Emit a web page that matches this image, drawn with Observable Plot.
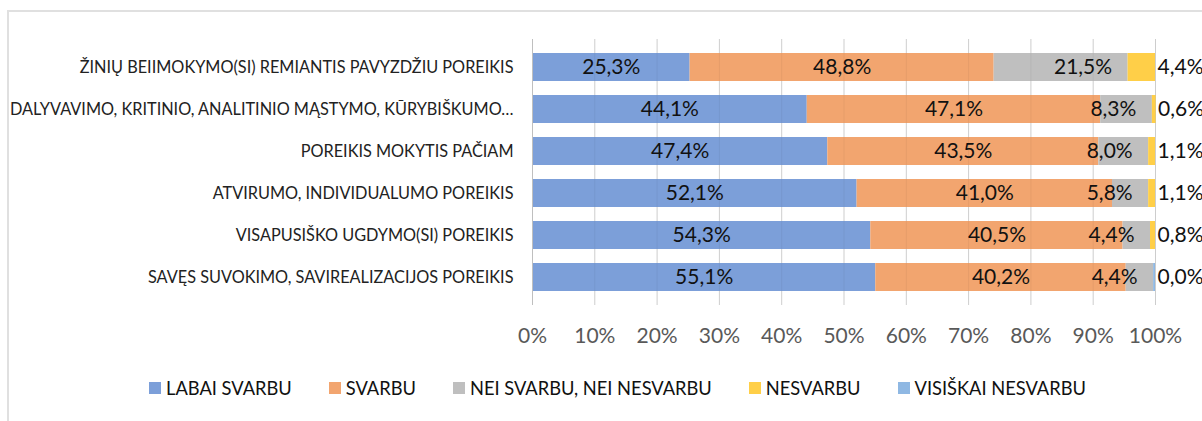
<!DOCTYPE html>
<html>
<head>
<meta charset="utf-8">
<script src="https://cdn.jsdelivr.net/npm/d3@7"></script>
<script src="https://cdn.jsdelivr.net/npm/@observablehq/plot@0.6"></script>
<style>
  html, body { margin: 0; padding: 0; background: #fff; }
  body { width: 1202px; height: 421px; position: relative; overflow: hidden; font-family: Lato, "Open Sans", sans-serif; }
  #frame { position: absolute; left: 7px; top: 10px; width: 1400px; height: 600px; border-left: 2px solid #e0e0e0; border-top: 2px solid #e0e0e0; pointer-events: none; }
  #chart { position: relative; }
  #legend { display: flex; align-items: center; height: 32px; padding-left: 149px; gap: 37px; font-size: 18.3px; color: #111; }
  #legend .item { display: flex; align-items: center; white-space: nowrap; }
  #legend .sw { width: 12px; height: 12px; margin-right: 5px; display: inline-block; }
</style>
</head>
<body>
<div id="frame"></div>
<div id="chart"></div>
<div id="legend"></div>
<script>
const categories = [
  "ŽINIŲ BEIIMOKYMO(SI) REMIANTIS PAVYZDŽIU POREIKIS",
  "DALYVAVIMO, KRITINIO, ANALITINIO MĄSTYMO, KŪRYBIŠKUMO…",
  "POREIKIS MOKYTIS PAČIAM",
  "ATVIRUMO, INDIVIDUALUMO POREIKIS",
  "VISAPUSIŠKO UGDYMO(SI) POREIKIS",
  "SAVĘS SUVOKIMO, SAVIREALIZACIJOS POREIKIS"
];
const seriesNames = ["LABAI SVARBU", "SVARBU", "NEI SVARBU, NEI NESVARBU", "NESVARBU", "VISIŠKAI NESVARBU"];
const labaiSvarbu = [25.3, 44.1, 47.4, 52.1, 54.3, 55.1];
const svarbu = [48.8, 47.1, 43.5, 41.0, 40.5, 40.2];
const neiSvarbuNeiNesvarbu = [21.5, 8.3, 8.0, 5.8, 4.4, 4.4];
const nesvarbu = [4.4, 0.6, 1.1, 1.1, 0.8, 0.0];
const visiskaiNesvarbu = [0.0, 0.0, 0.0, 0.0, 0.0, 0.3];
const xTicks = [0, 10, 20, 30, 40, 50, 60, 70, 80, 90, 100];
const colors = ["#7c9fd9", "#f2a56f", "#bfbfbf", "#ffcf48", "#8fb8e3"];

const seriesValues = [labaiSvarbu, svarbu, neiSvarbuNeiNesvarbu, nesvarbu, visiskaiNesvarbu];
const data = [];
categories.forEach((c, i) => {
  seriesNames.forEach((s, j) => data.push({category: c, series: s, value: seriesValues[j][i]}));
});
const rows = categories.map((c, i) => ({
  category: c,
  total: d3.sum(seriesValues, v => v[i]),
  nesvarbu: nesvarbu[i]
}));
const fmt = v => v.toFixed(1).replace(".", ",") + "%";

const chart = Plot.plot({
  width: 1202,
  height: 372,
  marginLeft: 532,
  marginRight: 47,
  marginTop: 39,
  marginBottom: 67,
  style: {fontFamily: "Lato, 'Open Sans', sans-serif", background: "transparent", overflow: "visible"},
  x: {domain: [0, 100], ticks: xTicks},
  y: {domain: categories, padding: 0.333},
  color: {domain: seriesNames, range: colors},
  marks: [
    Plot.gridX(xTicks, {stroke: "#d9d9d9", strokeOpacity: 1}),
    Plot.barX(data, Plot.stackX({x: "value", y: "category", fill: "series", order: null})),
    Plot.gridX(xTicks.slice(1), {stroke: "#000", strokeOpacity: 0.05}),
    Plot.ruleX([0], {stroke: "#bfbfbf"}),
    Plot.axisX(xTicks, {tickSize: 0, tickPadding: 23, tickFormat: d => d + "%", fontSize: 21, color: "#595959", label: null}),
    Plot.axisY({tickSize: 0, tickPadding: 19, fontSize: 16.3, color: "#222", label: null}),
    Plot.text(data, Plot.stackX({
      x: "value", y: "category", z: "series", order: null,
      text: d => (d.series === seriesNames[0] || d.series === seriesNames[1]) ? fmt(d.value) : null,
      fontSize: 21, fill: "#111"
    })),
    Plot.text(data, Plot.stackX2({
      x: "value", y: "category", z: "series", order: null,
      text: d => d.series === seriesNames[2] ? fmt(d.value) : null,
      textAnchor: "end", dx: -16, fontSize: 21, fill: "#111"
    })),
    Plot.text(rows, {x: "total", y: "category", text: d => fmt(d.nesvarbu), textAnchor: "start", dx: 2, fontSize: 21, fill: "#111"})
  ]
});
document.getElementById("chart").appendChild(chart);

const legend = document.getElementById("legend");
seriesNames.forEach((s, j) => {
  const item = document.createElement("div");
  item.className = "item";
  const sw = document.createElement("span");
  sw.className = "sw";
  sw.style.background = colors[j];
  item.appendChild(sw);
  item.appendChild(document.createTextNode(s));
  legend.appendChild(item);
});
</script>
</body>
</html>
